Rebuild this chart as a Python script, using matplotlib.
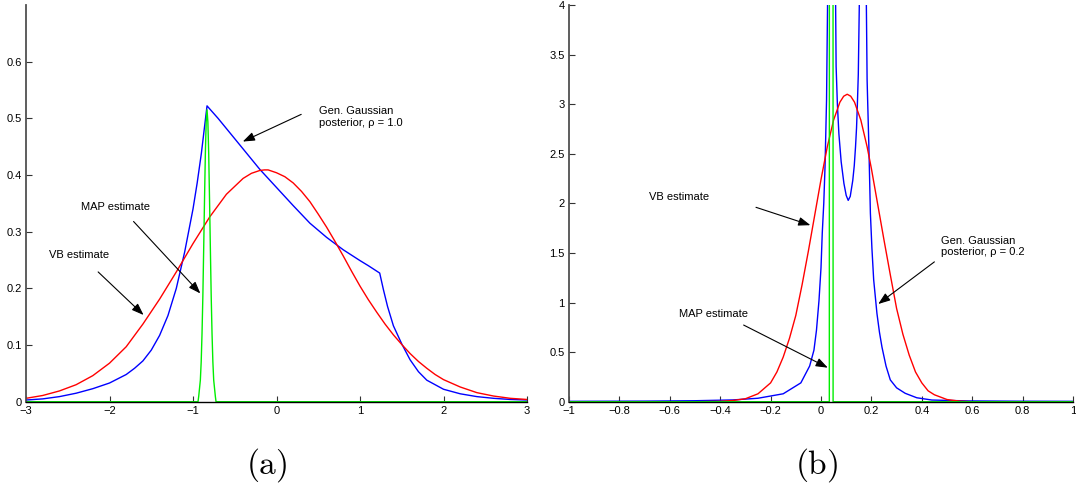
import matplotlib
matplotlib.use("Agg")
import matplotlib.pyplot as plt
from matplotlib.patches import Rectangle

plt.rcParams['font.family'] = ['Liberation Sans', 'DejaVu Sans']
plt.rcParams['mathtext.fontset'] = 'cm'

# ---------------- panel (a) data ----------------
a_vb_x = [-3.0, -2.8, -2.6, -2.4, -2.2, -2.0, -1.8, -1.6, -1.4, -1.2, -1.0, -0.8, -0.6,
          -0.4, -0.3, -0.2, -0.144, -0.1, 0.0, 0.1, 0.2, 0.3, 0.4, 0.5, 0.6, 0.7, 0.8,
          0.9, 1.0, 1.1, 1.2, 1.3, 1.4, 1.5, 1.6, 1.7, 1.8, 1.9, 2.0, 2.2, 2.4, 2.6,
          2.8, 3.0]
a_vb_y = [0.006, 0.011, 0.019, 0.030, 0.046, 0.068, 0.097, 0.137, 0.181, 0.229, 0.279,
          0.326, 0.366, 0.394, 0.403, 0.408, 0.409, 0.409, 0.404, 0.397, 0.386, 0.371,
          0.353, 0.331, 0.308, 0.283, 0.257, 0.230, 0.204, 0.180, 0.158, 0.137, 0.118,
          0.101, 0.085, 0.071, 0.059, 0.048, 0.039, 0.026, 0.016, 0.010, 0.006, 0.004]

a_gg_x = [-3.0, -2.8, -2.6, -2.4, -2.2, -2.0, -1.8, -1.7, -1.6, -1.5, -1.4, -1.3, -1.2,
          -1.1, -1.0, -0.95, -0.9, -0.866, -0.832, -0.7, -0.6, -0.5, -0.4, -0.2, 0.0,
          0.2, 0.4, 0.6, 0.8, 1.0, 1.1, 1.236, 1.28, 1.33, 1.4, 1.5, 1.6, 1.7, 1.8,
          2.0, 2.2, 2.4, 2.6, 2.8, 3.0]
a_gg_y = [0.003, 0.005, 0.009, 0.015, 0.023, 0.033, 0.048, 0.059, 0.072, 0.091, 0.117,
          0.152, 0.200, 0.264, 0.340, 0.386, 0.438, 0.480, 0.522, 0.500, 0.482, 0.464,
          0.446, 0.410, 0.378, 0.346, 0.315, 0.290, 0.268, 0.249, 0.240, 0.227, 0.198,
          0.168, 0.134, 0.102, 0.074, 0.053, 0.038, 0.022, 0.014, 0.009, 0.006, 0.004,
          0.003]

a_map_x = [-3.0, -0.94, -0.932, -0.912, -0.902, -0.892, -0.882, -0.872, -0.862, -0.852,
           -0.842, -0.832, -0.822, -0.812, -0.802, -0.792, -0.782, -0.772, -0.762,
           -0.752, -0.732, -0.724, 3.0]
a_map_y = [0.0, 0.0, 0.009, 0.038, 0.07, 0.12, 0.186, 0.27, 0.357, 0.438, 0.494, 0.515,
           0.494, 0.438, 0.357, 0.27, 0.186, 0.12, 0.07, 0.038, 0.009, 0.0, 0.0]

a_xticks = [-3, -2, -1, 0, 1, 2, 3]
a_yticks = [0, 0.1, 0.2, 0.3, 0.4, 0.5, 0.6]

# ---------------- panel (b) data ----------------
b_vb_x = [-1.0, -0.5, -0.4, -0.35, -0.3, -0.25, -0.2, -0.175, -0.15, -0.125, -0.1, -0.075,
          -0.05, -0.025, 0.0, 0.025, 0.05, 0.075, 0.09, 0.104, 0.118, 0.133, 0.158,
          0.183, 0.2, 0.225, 0.25, 0.275, 0.3, 0.325, 0.35, 0.375, 0.4, 0.425, 0.45,
          0.5, 0.55, 0.6, 1.0]
b_vb_y = [0.0, 0.0, 0.004, 0.012, 0.03, 0.08, 0.19, 0.30, 0.45, 0.64, 0.87, 1.18,
          1.52, 1.88, 2.24, 2.57, 2.84, 3.02, 3.08, 3.10, 3.08, 3.02, 2.84,
          2.57, 2.35, 1.99, 1.63, 1.28, 0.94, 0.68, 0.47, 0.30, 0.19, 0.11, 0.07,
          0.022, 0.006, 0.0, 0.0]

b_gg_x = [-1.0, -0.7, -0.5, -0.35, -0.25, -0.15, -0.08, -0.045, -0.028, -0.018, -0.008,
          0.0, 0.005, 0.011, 0.016, 0.022, 0.026, 0.042, 0.058, 0.06, 0.065, 0.071,
          0.08, 0.091, 0.1, 0.108, 0.116, 0.126, 0.132, 0.137, 0.141, 0.144, 0.148,
          0.152, 0.166, 0.18, 0.183, 0.19, 0.196, 0.202, 0.209, 0.222, 0.232, 0.242,
          0.258, 0.275, 0.3, 0.334, 0.38, 0.44, 0.585, 0.8, 1.0]
b_gg_y = [0.004, 0.006, 0.01, 0.018, 0.035, 0.08, 0.19, 0.36, 0.52, 0.72, 1.02,
          1.35, 1.70, 2.0, 2.37, 3.04, 4.0, 9.0, 4.0, 3.38, 3.0, 2.70,
          2.42, 2.2, 2.08, 2.03, 2.07, 2.23, 2.38, 2.57, 2.76, 2.97, 3.3,
          4.0, 9.0, 4.0, 3.24, 2.57, 1.9, 1.55, 1.23, 0.89, 0.70, 0.55,
          0.36, 0.22, 0.14, 0.085, 0.04, 0.017, 0.008, 0.005, 0.004]

b_map_x = [-1.0, 0.033, 0.036, 0.045, 0.048, 1.0]
b_map_y = [0.0, 0.0, 60.0, 60.0, 0.0, 0.0]

b_xticks = [-1, -0.8, -0.6, -0.4, -0.2, 0, 0.2, 0.4, 0.6, 0.8, 1]
b_yticks = [0, 0.5, 1, 1.5, 2, 2.5, 3, 3.5, 4]

# ---------------- figure ----------------
fig = plt.figure(figsize=(10.76, 4.88), dpi=100)
ax_a = fig.add_axes([26 / 1076, 0.1768, 501 / 1076, 0.813])
ax_b = fig.add_axes([569 / 1076, 0.1768, 504 / 1076, 0.813])


def style(ax):
    for s in ('top', 'right'):
        ax.spines[s].set_visible(False)
    ax.spines['left'].set_color('#505050')
    ax.spines['left'].set_linewidth(1.3)
    ax.spines['bottom'].set_color('black')
    ax.spines['bottom'].set_linewidth(1.0)
    ax.tick_params(direction='in', length=4, width=0.8, color='#333333',
                   labelsize=8, pad=3)
    ax.set_facecolor('none')


def draw(ax, x, y, color):
    ln, = ax.plot(x, y, color=color, lw=1.0)
    ln.set_clip_path(Rectangle((0, -0.015), 1, 1.015, transform=ax.transAxes))
    return ln


arrow = dict(arrowstyle='-|>,head_length=0.6,head_width=0.22', color='black',
             lw=0.8, mutation_scale=12, shrinkA=0, shrinkB=0)

# panel (a)
style(ax_a)
draw(ax_a, a_gg_x, a_gg_y, '#0000ff')
draw(ax_a, a_vb_x, a_vb_y, '#ff0000')
draw(ax_a, a_map_x, a_map_y, '#00ee00')
ax_a.set_xlim(-3, 3)
ax_a.set_ylim(0, 0.7)
ax_a.set_xticks(a_xticks)
ax_a.set_yticks(a_yticks)
ax_a.set_yticklabels(['0', '0.1', '0.2', '0.3', '0.4', '0.5', '0.6'])

ax_a.text(-2.344, 0.343, 'MAP estimate', fontsize=8, ha='left', va='center')
ax_a.annotate('', xy=(-0.912, 0.191), xytext=(-1.712, 0.318), arrowprops=arrow)
ax_a.text(-2.724, 0.258, 'VB estimate', fontsize=8, ha='left', va='center')
ax_a.annotate('', xy=(-1.592, 0.153), xytext=(-2.136, 0.229), arrowprops=arrow)
ax_a.text(0.508, 0.502, 'Gen. Gaussian\nposterior, \u03c1 = 1.0', fontsize=8,
          ha='left', va='center', linespacing=1.2)
ax_a.annotate('', xy=(-0.404, 0.459), xytext=(0.296, 0.507), arrowprops=arrow)

# panel (b)
style(ax_b)
draw(ax_b, b_gg_x, b_gg_y, '#0000ff')
draw(ax_b, b_vb_x, b_vb_y, '#ff0000')
draw(ax_b, b_map_x, b_map_y, '#00ee00')
ax_b.set_xlim(-1, 1)
ax_b.set_ylim(0, 4)
ax_b.set_xticks(b_xticks)
ax_b.set_xticklabels(['\u22121', '\u22120.8', '\u22120.6', '\u22120.4', '\u22120.2', '0',
                      '0.2', '0.4', '0.6', '0.8', '1'])
ax_b.set_yticks(b_yticks)
ax_b.set_yticklabels(['0', '0.5', '1', '1.5', '2', '2.5', '3', '3.5', '4'])

ax_b.text(-0.681, 2.06, 'VB estimate', fontsize=8, ha='left', va='center')
ax_b.annotate('', xy=(-0.042, 1.78), xytext=(-0.258, 1.96), arrowprops=arrow)
ax_b.text(-0.563, 0.88, 'MAP estimate', fontsize=8, ha='left', va='center')
ax_b.annotate('', xy=(0.027, 0.343), xytext=(-0.307, 0.773), arrowprops=arrow)
ax_b.text(0.475, 1.566, 'Gen. Gaussian\nposterior, \u03c1 = 0.2', fontsize=8,
          ha='left', va='center', linespacing=1.2)
ax_b.annotate('', xy=(0.227, 0.985), xytext=(0.45, 1.41), arrowprops=arrow)

fig.text(267 / 1076, 1 - 465 / 488, r'$\mathrm{(a)}$', fontsize=24, ha='center', va='center')
fig.text(817 / 1076, 1 - 465 / 488, r'$\mathrm{(b)}$', fontsize=24, ha='center', va='center')

fig.savefig('out.png', dpi=100)
